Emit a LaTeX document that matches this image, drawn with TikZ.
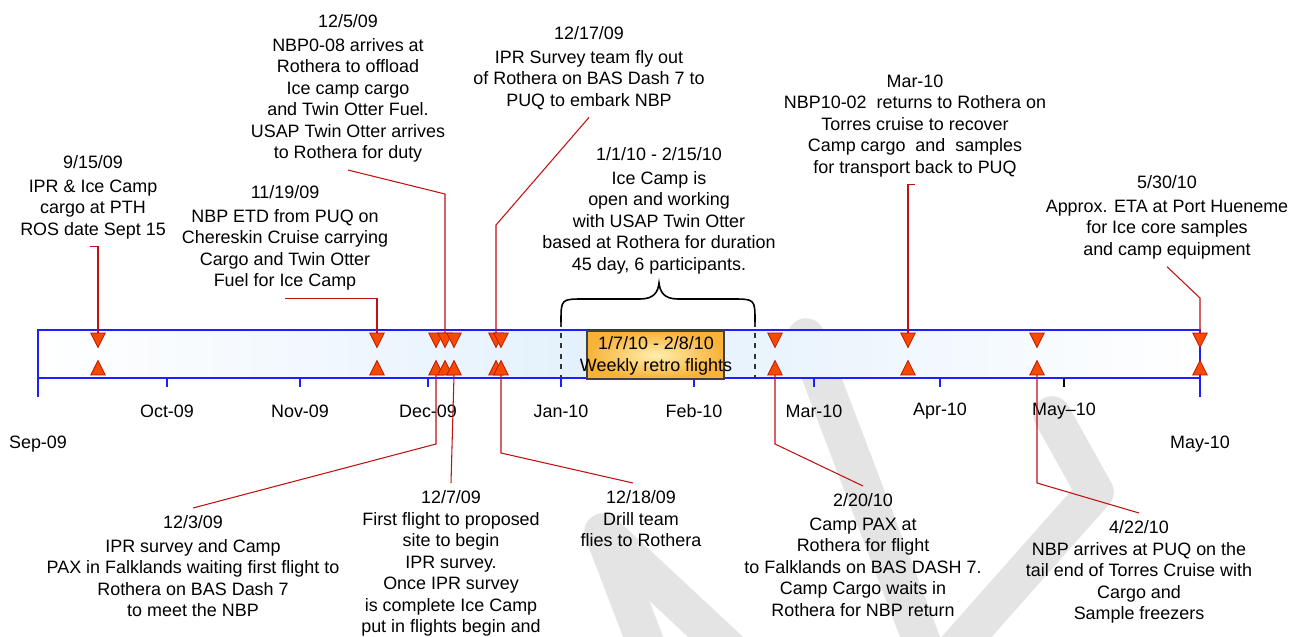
\documentclass[tikz,border=0pt]{standalone}
\usepackage{fontspec}
\setmainfont{Liberation Sans}
\usepackage{tikz}
\usetikzlibrary{shapes.geometric}
\definecolor{tlblue}{RGB}{30,30,255}
\definecolor{bandmid}{RGB}{226,240,252}
\definecolor{markfill}{RGB}{246,74,0}
\definecolor{markline}{RGB}{190,20,0}
\definecolor{leadred}{RGB}{192,16,16}
\definecolor{retroin}{RGB}{255,238,175}
\definecolor{retroout}{RGB}{247,178,55}
\definecolor{wmgray}{RGB}{228,228,228}

\begin{document}
\begin{tikzpicture}[x=0.2mm, y=-0.2mm,
      lbl/.style={font=\fontsize{10.2}{12.2}\selectfont, align=center,
                  inner xsep=0pt, inner ysep=1.5mm},
      note/.style={lbl, anchor=north},
      month/.style={font=\fontsize{10.2}{12.2}\selectfont, inner sep=0pt},
      tline/.style={tlblue, line width=0.7pt},
      lead/.style={leadred, line width=0.6pt},
      dnmark/.style={isosceles triangle, isosceles triangle stretches,
                     shape border rotate=270, minimum width=2.9mm, minimum height=2.9mm,
                     inner sep=0pt, outer sep=0pt, fill=markfill, draw=markline,
                     line width=0.4pt},
      upmark/.style={dnmark, shape border rotate=90},
      retro/.style={draw=black!75, line width=0.6pt, inner color=retroin,
                    outer color=retroout, minimum width=27.4mm, minimum height=9.6mm},
      brc/.style={black, line width=0.9pt},
      dashln/.style={black!80, dashed, line width=0.6pt},
      wmark/.style={wmgray, line width=7.5mm, line join=round, line cap=round}
    ]
    \useasboundingbox (0,0) rectangle (1291,636);

    % watermark
    \draw[wmark] (806,337) -- (925,650);
    \draw[wmark] (1052,415) -- (1095,492) -- (955,650);
    \draw[wmark] (650,655) -- (603,532) -- (735,655);

    % time band
    \shade[left color=white, right color=white, middle color=bandmid] (38,330) rectangle (1200,378);
    \draw[tline] (38,397) -- (38,330) -- (1200,330) -- (1200,397);
    \draw[tline] (38,378) -- (1200,378);
    \foreach \x in {167,300,428,561,694,814,940}
      \draw[tline] (\x,378) -- (\x,387);
    \draw[black, line width=0.6pt] (1064,378) -- (1064,387);

    \foreach \x/\m in {167/Oct-09, 300/Nov-09, 428/Dec-09, 561/Jan-10, 694/Feb-10,
                       814/Mar-10, 940/Apr-10, 1064/May--10}
      \node[month] (m\x) at (\x,411) {\m};
    \node[month] (sep) at (38,444) {Sep-09};
    \node[month] (may) at (1200,444) {May-10};

    % ice camp period
    \coordinate (brl) at (561,322);
    \coordinate (brr) at (755,322);
    \coordinate (brl-b) at (561,378);
    \coordinate (brr-b) at (755,378);
    \draw[dashln] (brl) -- (brl-b);
    \draw[dashln] (brr) -- (brr-b);
    \draw[brc] (brl) .. controls (561,299) .. (584,299) -- (640,299)
      .. controls (654,299) and (658,292) .. (659,283)
      .. controls (660,292) and (664,299) .. (678,299) -- (732,299)
      .. controls (755,299) .. (brr);
    \node[retro] (rbox) at (655.5,355) {};
    \node[lbl] (rtxt) at (656,356) {1/7/10 - 2/8/10\\Weekly retro flights};

    \foreach \x/\n in {98/sep15, 377/nov19, 436/dec3, 445/dec5, 454/dec7, 496/dec17,
                       501/dec18, 775/feb20, 908/mar10, 1037/apr22, 1200/may30}{
      \node[dnmark] (\n-t) at (\x,337.5) {};
      \node[upmark] (\n-b) at (\x,370.5) {};
    }

    % notes above the band
    \node[note] (sep15) at (93,148) {9/15/09\\[0.4mm]IPR \& Ice Camp\\cargo at PTH\\ROS date Sept 15};
    \node[note] (dec5) at (348,7) {12/5/09\\[0.4mm]NBP0-08 arrives at\\Rothera to offload\\Ice camp cargo\\and Twin Otter Fuel.\\USAP Twin Otter arrives\\to Rothera for duty};
    \node[note] (nov19) at (285,178) {11/19/09\\[0.4mm]NBP ETD from PUQ on\\Chereskin Cruise carrying\\Cargo and Twin Otter\\Fuel for Ice Camp};
    \node[note] (dec17) at (589,19) {12/17/09\\[0.4mm]IPR Survey team fly out\\of Rothera on BAS Dash 7 to\\PUQ to embark NBP};
    \node[note] (camp) at (659,140) {1/1/10 - 2/15/10\\[0.4mm]Ice Camp is\\open and working\\with USAP Twin Otter\\based at Rothera for duration\\45 day, 6 participants.};
    \node[note] (mar10) at (915,67) {Mar-10\\NBP10-02\ \ returns to Rothera on\\Torres cruise to recover\\Camp cargo\ \ and\ \ samples\\for transport back to PUQ};
    \node[note] (may30) at (1167,168) {5/30/10\\[0.4mm]Approx. ETA at Port Hueneme\\for Ice core samples\\and camp equipment};

    % notes below the band
    \node[note] (dec3) at (193,508) {12/3/09\\[0.4mm]IPR survey and Camp\\PAX in Falklands waiting first flight to\\Rothera on BAS Dash 7\\to meet the NBP};
    \node[note] (dec7) at (451,483) {12/7/09\\First flight to proposed\\site to begin\\IPR survey.\\Once IPR survey\\is complete Ice Camp\\put in flights begin and};
    \node[note] (dec18) at (641,483) {12/18/09\\Drill team\\flies to Rothera};
    \node[note] (feb20) at (863,486) {2/20/10\\[0.4mm]Camp PAX at\\Rothera for flight\\to Falklands on BAS DASH 7.\\Camp Cargo waits in\\Rothera for NBP return};
    \node[note] (apr22) at (1139,513) {4/22/10\\NBP arrives at PUQ on the\\tail end of Torres Cruise with\\Cargo and\\Sample freezers};

    \coordinate (dec5-k) at (445,194);
    \coordinate (dec17-k) at (496,225);
    \coordinate (may30-k) at (1200,298);
    \coordinate (dec3-k) at (436,444);
    \coordinate (dec18-k) at (501,453);
    \coordinate (feb20-k) at (775,444);
    \coordinate (apr22-k) at (1037,483);

    \draw[lead] (sep15-t.lower side) |- ([xshift=-0.6mm]sep15.south);
    \draw[lead] (nov19-t.lower side) |- (nov19.south);
    \draw[lead] (dec5-t.lower side) -- (dec5-k) -- (dec5.south);
    \draw[lead] (dec17-t.lower side) -- (dec17-k) -- (dec17.south);
    \draw[lead] (mar10-t.lower side) |- (mar10.south);
    \draw[lead] (may30-t.lower side) -- (may30-k) -- (may30.south);
    \draw[lead] (dec3-b.lower side) -- (dec3-k) -- (dec3.north);
    \draw[lead] (dec7-b.lower side) -- (dec7.north);
    \draw[lead] (dec18-b.lower side) -- (dec18-k) -- ([xshift=-1.6mm]dec18.north);
    \draw[lead] (feb20-b.lower side) -- (feb20-k) -- (feb20.north);
    \draw[lead] (apr22-b.lower side) -- (apr22-k) -- (apr22.north);
  \end{tikzpicture}
\end{document}
